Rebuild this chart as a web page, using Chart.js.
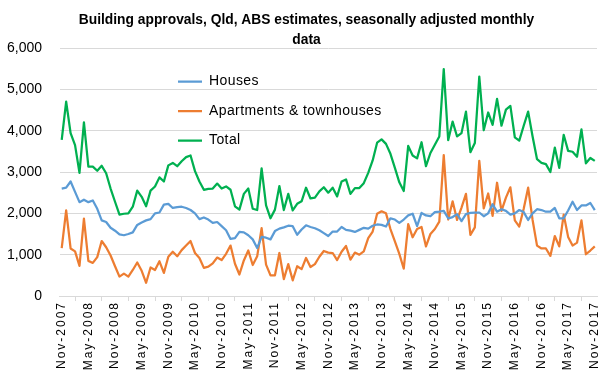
<!DOCTYPE html>
<html><head><meta charset="utf-8">
<script src="https://cdn.jsdelivr.net/npm/chart.js@4.4.1/dist/chart.umd.min.js"></script>
<style>html,body{margin:0;padding:0;background:#fff;}#wrap{width:613px;height:379px;position:relative;}</style>
</head><body><div id="wrap"><canvas id="c"></canvas></div>
<script>
const months = [
"Nov-2007","Dec-2007",
"Jan-2008","Feb-2008","Mar-2008","Apr-2008","May-2008","Jun-2008","Jul-2008","Aug-2008","Sep-2008","Oct-2008","Nov-2008","Dec-2008",
"Jan-2009","Feb-2009","Mar-2009","Apr-2009","May-2009","Jun-2009","Jul-2009","Aug-2009","Sep-2009","Oct-2009","Nov-2009","Dec-2009",
"Jan-2010","Feb-2010","Mar-2010","Apr-2010","May-2010","Jun-2010","Jul-2010","Aug-2010","Sep-2010","Oct-2010","Nov-2010","Dec-2010",
"Jan-2011","Feb-2011","Mar-2011","Apr-2011","May-2011","Jun-2011","Jul-2011","Aug-2011","Sep-2011","Oct-2011","Nov-2011","Dec-2011",
"Jan-2012","Feb-2012","Mar-2012","Apr-2012","May-2012","Jun-2012","Jul-2012","Aug-2012","Sep-2012","Oct-2012","Nov-2012","Dec-2012",
"Jan-2013","Feb-2013","Mar-2013","Apr-2013","May-2013","Jun-2013","Jul-2013","Aug-2013","Sep-2013","Oct-2013","Nov-2013","Dec-2013",
"Jan-2014","Feb-2014","Mar-2014","Apr-2014","May-2014","Jun-2014","Jul-2014","Aug-2014","Sep-2014","Oct-2014","Nov-2014","Dec-2014",
"Jan-2015","Feb-2015","Mar-2015","Apr-2015","May-2015","Jun-2015","Jul-2015","Aug-2015","Sep-2015","Oct-2015","Nov-2015","Dec-2015",
"Jan-2016","Feb-2016","Mar-2016","Apr-2016","May-2016","Jun-2016","Jul-2016","Aug-2016","Sep-2016","Oct-2016","Nov-2016","Dec-2016",
"Jan-2017","Feb-2017","Mar-2017","Apr-2017","May-2017","Jun-2017","Jul-2017","Aug-2017","Sep-2017","Oct-2017","Nov-2017"
];
const houses = [
2600,2620,2770,2520,2270,2330,2270,2310,2110,1830,
1790,1650,1580,1490,1470,1500,1540,1720,1780,1830,
1860,2000,2020,2210,2230,2130,2150,2160,2130,2080,
2000,1860,1900,1850,1770,1790,1690,1590,1380,1400,
1550,1540,1470,1370,1160,1430,1410,1370,1570,1630,
1660,1700,1690,1480,1610,1710,1670,1640,1590,1520,
1450,1560,1560,1670,1600,1580,1550,1600,1650,1630,
1700,1730,1720,1680,1880,1850,1770,1850,1950,1990,
1690,2010,1950,1930,2030,2040,2060,1880,1910,1980,
1810,1980,2010,2020,2020,1930,2000,2220,2040,2100,
2060,1970,2000,2080,2030,1840,2000,2100,2080,2040,
2040,2130,1880,1880,2070,2280,2080,2190,2190,2250,
2080];
const apartments = [
1160,2070,1150,1080,730,1870,850,800,940,1330,
1180,980,720,470,540,470,630,810,610,320,
690,630,840,560,950,1070,960,1110,1220,1330,
1040,920,680,710,790,930,870,1020,1220,780,
520,860,1100,750,960,1640,760,500,500,1040,
410,770,380,720,650,920,700,770,950,1090,
1050,1040,870,1070,1210,880,1050,1000,1080,1400,
1560,1990,2050,2000,1620,1320,1020,660,1740,1420,
1620,1670,1200,1500,1620,1800,3410,1850,2290,1840,
2140,2470,1480,1660,3270,2120,2480,1940,2740,2060,
2380,2630,1830,1680,2110,2620,1840,1220,1150,1150,
970,1450,1200,1970,1430,1220,1290,1830,1010,1100,
1200];
const total = [
3780,4700,3940,3650,2980,4200,3130,3130,3030,3150,
2970,2600,2280,1970,1990,2000,2160,2550,2400,2170,
2550,2650,2870,2770,3160,3220,3140,3260,3360,3400,
3020,2770,2570,2590,2600,2720,2600,2650,2570,2170,
2090,2470,2600,2110,2080,3090,2190,1880,2090,2660,
2080,2470,2070,2230,2290,2620,2360,2380,2530,2630,
2500,2620,2410,2770,2820,2470,2610,2610,2730,2980,
3280,3710,3790,3680,3440,3100,2750,2540,3630,3400,
3330,3720,3140,3460,3660,3860,5490,3770,4220,3860,
3940,4460,3480,3700,5310,4010,4440,4140,4770,4120,
4510,4600,3840,3760,4120,4460,3860,3310,3220,3190,
3000,3590,3100,3900,3510,3490,3370,4030,3210,3340,
3270];
const seriesNames = ["Houses", "Apartments & townhouses", "Total"];
const seriesColors = ["#5B9BD5", "#ED7D31", "#00B050"];
const titleLines = ["Building approvals, Qld, ABS estimates, seasonally adjusted monthly", "data"];
const labelEvery = 6;

function patchSpacing(target, fnName, spacing) {
  if (!target || target["__sp_" + fnName]) return;
  const orig = target[fnName];
  target[fnName] = function (...args) {
    const ctx = this.ctx;
    ctx.save();
    try { ctx.letterSpacing = spacing; } catch (e) {}
    const r = orig.apply(this, args);
    ctx.restore();
    return r;
  };
  target["__sp_" + fnName] = true;
}

const layoutTweaks = {
  id: "layoutTweaks",
  afterLayout(chart) {
    const lg = chart.legend;
    if (lg) { lg.left = 162.5; lg.top = 59; }
    const tb = chart.titleBlock;
    if (tb) { tb.left = 0; tb.right = chart.width; tb.top = 1.5; }
  },
  beforeDraw(chart) {
    patchSpacing(chart.scales.x, "drawLabels", "2px");
    patchSpacing(chart.legend, "draw", "0.4px");
  }
};

const FONT = "'Liberation Sans', Arial, sans-serif";

function makeSet(i, values) {
  return {
    label: seriesNames[i], data: values,
    borderColor: seriesColors[i], backgroundColor: seriesColors[i],
    pointBorderColor: seriesColors[i], pointBackgroundColor: seriesColors[i],
    pointBorderWidth: 2.25, borderWidth: 2.25
  };
}

new Chart(document.getElementById("c"), {
  type: "line",
  data: {
    labels: months,
    datasets: [makeSet(0, houses), makeSet(1, apartments), makeSet(2, total)]
  },
  options: {
    responsive: true,
    maintainAspectRatio: false,
    animation: false,
    devicePixelRatio: 1,
    layout: { padding: { left: 0, right: 16, top: 0, bottom: 0 } },
    elements: {
      line: { tension: 0, borderJoinStyle: "round" },
      point: { radius: 0, hoverRadius: 0 }
    },
    plugins: {
      tooltip: { enabled: false },
      title: {
        display: true,
        text: titleLines,
        color: "#000",
        font: { family: FONT, size: 13.8, weight: "bold", lineHeight: "19.5px" },
        padding: { top: 9, bottom: 0 }
      },
      legend: {
        display: true,
        position: "chartArea",
        align: "start",
        labels: {
          usePointStyle: true,
          pointStyle: "line",
          pointStyleWidth: 24,
          boxHeight: 14,
          padding: 15.5,
          color: "#000",
          font: { family: FONT, size: 14 }
        }
      }
    },
    scales: {
      x: {
        type: "category",
        offset: true,
        grid: { display: true, drawOnChartArea: false, drawTicks: true, tickLength: 5, color: "#d9d9d9", offset: true },
        border: { display: true, color: "#d9d9d9", width: 1 },
        ticks: {
          autoSkip: false,
          minRotation: 90,
          maxRotation: 90,
          padding: 0,
          color: "#000",
          font: { family: FONT, size: 12 },
          callback: function (value, index) { return index % labelEvery === 0 ? months[index] : null; }
        },
        afterFit: (s) => { s.height = 83; }
      },
      y: {
        min: 0,
        max: 6000,
        grid: { color: "#d9d9d9", drawTicks: false, lineWidth: 1 },
        border: { display: false },
        ticks: {
          stepSize: 1000,
          padding: 17.5,
          color: "#000",
          font: { family: FONT, size: 14 },
          callback: (v) => v.toLocaleString("en-US")
        },
        afterFit: (s) => { s.width = 59.5; }
      }
    }
  },
  plugins: [layoutTweaks]
});
</script>
</body></html>
